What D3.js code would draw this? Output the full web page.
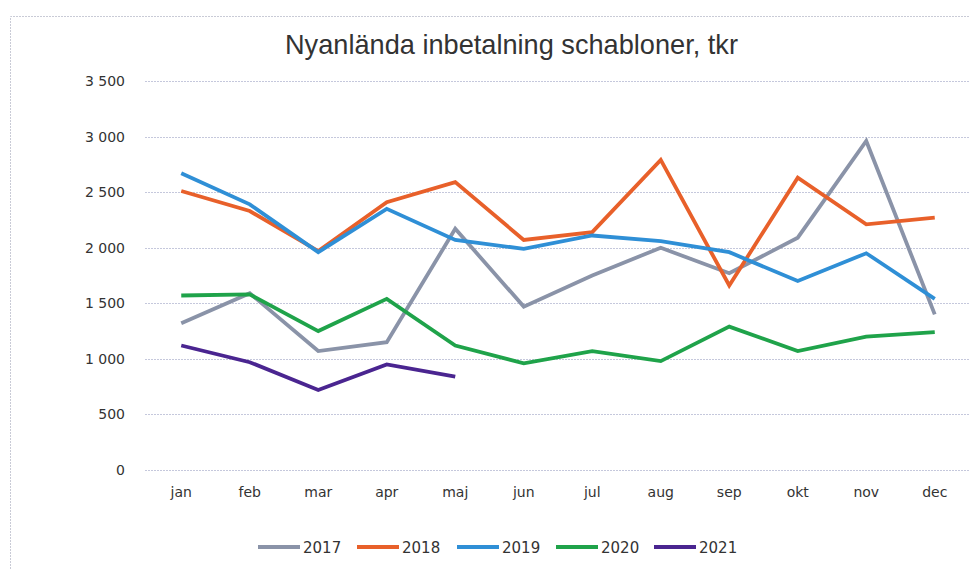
<!DOCTYPE html>
<html>
<head>
<meta charset="utf-8">
<script src="https://cdn.jsdelivr.net/npm/d3@7"></script>
<style>
  body { margin: 0; background: #fff; }
  svg { display: block; }
</style>
</head>
<body>
<div id="chart"></div>
<script>
// Data
const months = ['jan', 'feb', 'mar', 'apr', 'maj', 'jun', 'jul', 'aug', 'sep', 'okt', 'nov', 'dec'];
const years = ['2017', '2018', '2019', '2020', '2021'];
const v2017 = [1320, 1590, 1070, 1150, 2170, 1470, 1750, 2000, 1770, 2090, 2960, 1400];
const v2018 = [2510, 2330, 1970, 2410, 2590, 2070, 2140, 2790, 1660, 2630, 2210, 2270];
const v2019 = [2670, 2390, 1960, 2350, 2070, 1990, 2110, 2060, 1960, 1700, 1950, 1540];
const v2020 = [1570, 1580, 1250, 1540, 1120, 960, 1070, 980, 1290, 1070, 1200, 1240];
const v2021 = [1120, 970, 720, 950, 840];
const yTicks = [0, 500, 1000, 1500, 2000, 2500, 3000, 3500];

const colors = {
  '2017': '#8a93a8',
  '2018': '#e8602a',
  '2019': '#2f8fd6',
  '2020': '#1fa34a',
  '2021': '#4a2590'
};

const W = 970, H = 569;
const margin = { left: 147, right: 1, top: 81, bottom: 99 };

const svg = d3.select('#chart').append('svg')
  .attr('width', W)
  .attr('height', H);

// chart frame
svg.append('path')
  .attr('d', `M10.5,${H} V16.5 H${W}`)
  .attr('fill', 'none')
  .attr('stroke', '#c9cbd6')
  .attr('stroke-dasharray', '2,1');

const x = d3.scaleBand()
  .domain(months)
  .range([margin.left, W - margin.right]);

const y = d3.scaleLinear()
  .domain([0, 3500])
  .range([H - margin.bottom, margin.top]);

// title (condensed look)
svg.append('text')
  .attr('x', 285)
  .attr('y', 54)
  .attr('font-family', 'Liberation Sans, sans-serif')
  .attr('font-size', 28)
  .attr('textLength', 453)
  .attr('lengthAdjust', 'spacingAndGlyphs')
  .attr('fill', '#333')
  .text('Nyanlända inbetalning schabloner, tkr');

// grid
svg.append('g')
  .selectAll('line')
  .data(yTicks)
  .enter()
  .append('line')
  .attr('x1', margin.left - 2)
  .attr('x2', W)
  .attr('y1', d => Math.round(y(d)) + 0.5)
  .attr('y2', d => Math.round(y(d)) + 0.5)
  .attr('stroke', '#c5c8dc')
  .attr('stroke-dasharray', '2,1');

// y axis labels
const yAxis = svg.append('g')
  .attr('transform', `translate(${margin.left - 19},0)`)
  .call(d3.axisLeft(y).tickValues(yTicks).tickSize(0)
    .tickFormat(d => d3.format(',')(d).replace(',', ' ')));
yAxis.select('.domain').remove();
yAxis.selectAll('text')
  .attr('font-family', 'DejaVu Sans, sans-serif')
  .attr('font-size', 14)
  .attr('fill', '#333');

// x axis labels
const xAxis = svg.append('g')
  .attr('transform', `translate(0,${H - margin.bottom + 14})`)
  .call(d3.axisBottom(x).tickSize(0));
xAxis.select('.domain').remove();
xAxis.selectAll('text')
  .attr('font-family', 'DejaVu Sans, sans-serif')
  .attr('font-size', 14)
  .attr('fill', '#333');

// lines
const series = [
  { name: '2017', values: v2017 },
  { name: '2018', values: v2018 },
  { name: '2019', values: v2019 },
  { name: '2020', values: v2020 },
  { name: '2021', values: v2021 }
];

const line = d3.line()
  .x((d, i) => x(months[i]) + x.bandwidth() / 2)
  .y(d => y(d));

svg.append('g')
  .selectAll('path')
  .data(series)
  .enter()
  .append('path')
  .attr('d', d => line(d.values))
  .attr('fill', 'none')
  .attr('stroke', d => colors[d.name])
  .attr('stroke-width', 3.8)
  .attr('stroke-linejoin', 'miter');

// legend
const legendX = [258, 357, 457, 556, 654];
const legend = svg.append('g')
  .selectAll('g')
  .data(years)
  .enter()
  .append('g')
  .attr('transform', (d, i) => `translate(${legendX[i]},547)`);

legend.append('line')
  .attr('x1', 0)
  .attr('x2', 42)
  .attr('stroke', d => colors[d])
  .attr('stroke-width', 3.8);

legend.append('text')
  .attr('x', 45)
  .attr('y', 6)
  .attr('font-family', 'DejaVu Sans, sans-serif')
  .attr('font-size', 15)
  .attr('fill', '#333')
  .text(d => d);
</script>
</body>
</html>
